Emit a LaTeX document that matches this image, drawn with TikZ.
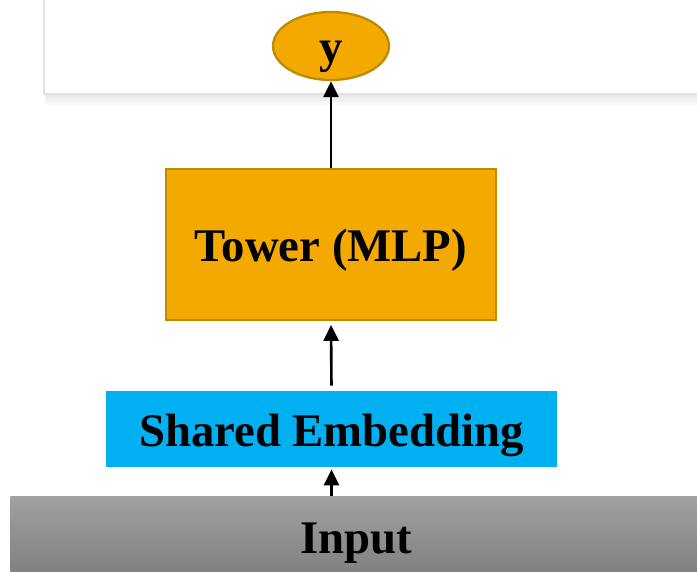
\documentclass[tikz,border=0pt]{standalone}
\usepackage{fontspec}
\setmainfont{Liberation Serif}
\usepackage{tikz}
\usetikzlibrary{arrows.meta, positioning, shapes.geometric}
\definecolor{towerorange}{HTML}{F4A900}
\definecolor{towerborder}{HTML}{BF8A00}
\definecolor{embedblue}{HTML}{00B0F0}
\definecolor{panelgray}{HTML}{E3E3E3}

\begin{document}
\begin{tikzpicture}[
        box/.style = {rectangle, align=center, font=\fontsize{26.6}{30}\selectfont\bfseries, inner sep=0pt, text height=0.9cm, text depth=0.22cm},
        outnode/.style = {box, ellipse, fill=towerorange, draw=towerborder, line width=1.3pt, minimum width=2.32cm, minimum height=1.36cm, text height=0.68cm, text depth=0.01cm},
        tower/.style = {box, fill=towerorange, draw=towerborder, line width=1pt, minimum width=6.6cm, minimum height=3.02cm},
        embed/.style = {box, fill=embedblue, minimum width=9.02cm, minimum height=1.52cm},
        inputbar/.style = {box, top color=black!37, bottom color=black!50, minimum width=13.84cm, minimum height=1.6cm},
        arrow/.style = {draw=black, -{Triangle[width=0.3cm, length=0.32cm]}, line width=1.5pt}
    ]
        \useasboundingbox (0,0) rectangle (13.94,11.42);

        % top panel with its shadow
        \shade [top color=black!10, bottom color=white] (0.9,9.54) rectangle (14.2,9.3);
        \draw [draw=panelgray, fill=white, line width=0.8pt] (0.88,9.54) rectangle (14.3,11.8);

        % output and tower
        \node (y) [outnode] at (6.62,10.50) {y};
        \node (tower) [tower, below=1.74cm of y] {Tower (MLP)};

        % shared embedding and input
        \node (embed) [embed] at (6.63,2.84) {Shared Embedding};
        \node (input) [inputbar, anchor=north west] at (0.2,1.50) {Input};

        % arrows
        \draw [arrow] (tower.north) -- (y.south);
        \draw [arrow, shorten <=0.1cm, shorten >=0.08cm] (embed.north) -- (tower.south);
        \draw [arrow, shorten >=0.04cm] (input.north -| embed.south) -- (embed.south);

\end{tikzpicture}
\end{document}
